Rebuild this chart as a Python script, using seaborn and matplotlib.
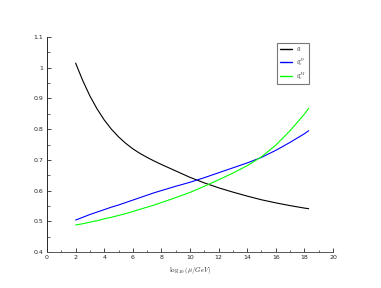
import matplotlib
matplotlib.use("Agg")
import matplotlib.pyplot as plt
from matplotlib.ticker import MultipleLocator
import pandas as pd
import seaborn as sns

# escala de energia log10(mu/GeV)
mu = [2, 2.5, 3, 3.5, 4, 4.5, 5, 5.5, 6, 6.5, 7, 7.5, 8, 9, 10, 11, 12, 13, 14,
      15, 16, 17, 18, 18.3]

# acoplamientos
g_t = [1.015, 0.958, 0.908, 0.866, 0.830, 0.800, 0.775, 0.754, 0.736, 0.721,
       0.708, 0.696, 0.685, 0.664, 0.643, 0.625, 0.609, 0.595, 0.582, 0.570,
       0.560, 0.551, 0.543, 0.541]
g_nu_D = [0.504, 0.513, 0.522, 0.530, 0.538, 0.546, 0.553, 0.561, 0.569, 0.577,
          0.585, 0.593, 0.600, 0.614, 0.627, 0.642, 0.658, 0.674, 0.690, 0.708,
          0.731, 0.757, 0.785, 0.795]
g_nu_M = [0.488, 0.492, 0.497, 0.502, 0.508, 0.513, 0.519, 0.525, 0.532, 0.539,
          0.546, 0.553, 0.561, 0.577, 0.594, 0.614, 0.635, 0.657, 0.681, 0.710,
          0.748, 0.795, 0.849, 0.868]

etiquetas = ["$g_t$", "$g_\\nu^D$", "$g_\\nu^M$"]
colores = ["black", "blue", "lime"]

df = pd.DataFrame({"mu": mu * 3,
                   "g": g_t + g_nu_D + g_nu_M,
                   "serie": [etiquetas[0]] * len(mu) + [etiquetas[1]] * len(mu) + [etiquetas[2]] * len(mu)})

sns.set_style("ticks")
plt.rcParams["font.family"] = ["DejaVu Sans"]
plt.rcParams["mathtext.fontset"] = "cm"

fig = plt.figure(figsize=(3.81, 2.88), dpi=100)
ax = fig.add_axes([0.1234, 0.125, 0.7506, 0.7465])

sns.lineplot(data=df, x="mu", y="g", hue="serie", palette=colores,
             linewidth=0.8, ax=ax, sort=False)

ax.set_xlim(0, 20)
ax.set_ylim(0.4, 1.1)
ax.xaxis.set_major_locator(MultipleLocator(2))
ax.xaxis.set_minor_locator(MultipleLocator(1))
ax.yaxis.set_minor_locator(MultipleLocator(0.05))
ax.set_yticks([0.4, 0.5, 0.6, 0.7, 0.8, 0.9, 1.0, 1.1])
ax.set_yticklabels(["0.4", "0.5", "0.6", "0.7", "0.8", "0.9", "1", "1.1"])
ax.tick_params(which="major", direction="in", length=3, width=0.6, labelsize=4.5, pad=2.5)
ax.tick_params(which="minor", direction="in", length=1.8, width=0.5)
for lado in ["top", "right"]:
    ax.spines[lado].set_visible(False)
ax.spines["left"].set_linewidth(0.7)
ax.spines["bottom"].set_linewidth(0.7)
ax.spines["bottom"].set_color("#555555")

ax.set_xlabel("$\\log_{10}(\\mu/GeV)$", fontsize=5, labelpad=3)
ax.set_ylabel("")

leg = ax.legend(loc="upper left", bbox_to_anchor=(0.795, 0.985), fontsize=4.5,
                frameon=True, fancybox=False, edgecolor="#555555",
                handlelength=1.8, borderpad=0.45, labelspacing=0.35, handletextpad=0.7)
leg.get_frame().set_linewidth(0.8)
for linea in leg.get_lines():
    linea.set_linewidth(1.0)

fig.savefig("out.png", dpi=100)
